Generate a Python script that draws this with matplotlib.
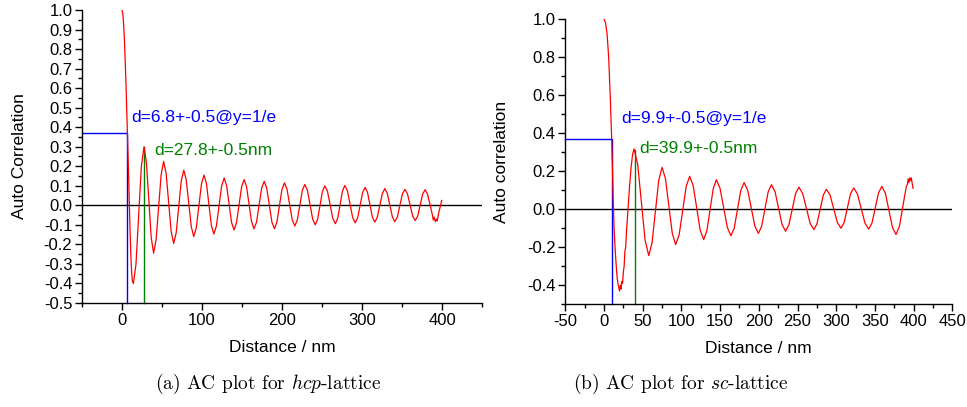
import numpy as np
import matplotlib
matplotlib.use('Agg')
import matplotlib.pyplot as plt
from matplotlib.ticker import MultipleLocator, FuncFormatter

# ---------------- data ----------------
x_hcp = [0, 1, 2, 3, 4, 5, 6, 6.8, 8, 9, 10, 11, 12, 13, 14.2,
         17.5, 20.85, 24.2, 27.5,
         30.5, 33.5, 36.5, 39.5,
         42.6, 45.75, 48.9, 52,
         55.15, 58.3, 61.45, 64.6,
         67.75, 70.9, 74.05, 77.2,
         80.3, 83.45, 86.6, 89.7,
         92.9, 96.1, 99.3, 102.5,
         105.6, 108.65, 111.7, 114.8,
         118.0, 121.25, 124.5, 127.7,
         130.8, 133.85, 136.9, 140,
         143.15, 146.3, 149.45, 152.6,
         155.7, 158.8, 161.9, 165,
         168.2, 171.35, 174.5, 177.7,
         180.9, 184.1, 187.3, 190.5,
         193.6, 196.75, 199.9, 203,
         206.2, 209.5, 212.75, 216,
         219.1, 222.25, 225.4, 228.5,
         231.75, 235, 238.25, 241.5,
         244.5, 247.5, 250.5, 253.5,
         256.8, 260.1, 263.4, 266.7,
         269.65, 272.6, 275.55, 278.5,
         281.75, 285, 288.25, 291.5,
         294.6, 297.65, 300.7, 303.8,
         306.85, 309.9, 312.95, 316,
         319.1, 322.25, 325.4, 328.5,
         331.6, 334.75, 337.9, 341,
         344.15, 347.3, 350.45, 353.6,
         356.8, 360.05, 363.3, 366.5,
         369.6, 372.65, 375.7, 378.8,
         382, 385.2, 388, 389, 390, 391.6, 393, 394, 395.5, 397.5, 399.6]
y_hcp = [1.0, 0.98, 0.93, 0.85, 0.74, 0.62, 0.48, 0.37, 0.19, 0.03, -0.12, -0.25, -0.34, -0.39, -0.40,
         -0.30, -0.05, 0.20, 0.30,
         0.22, 0.03, -0.165, -0.245,
         -0.176, -0.01, 0.156, 0.225,
         0.164, 0.015, -0.134, -0.195,
         -0.14, -0.008, 0.125, 0.18,
         0.13, 0.01, -0.11, -0.16,
         -0.114, -0.003, 0.11, 0.155,
         0.11, 0.004, -0.103, -0.147,
         -0.105, -0.003, 0.098, 0.14,
         0.10, 0.007, -0.087, -0.126,
         -0.088, 0.003, 0.094, 0.132,
         0.095, 0.006, -0.083, -0.12,
         -0.085, 0.0, 0.088, 0.123,
         0.088, 0.0, -0.085, -0.12,
         -0.086, -0.003, 0.081, 0.115,
         0.083, 0.005, -0.074, -0.106,
         -0.075, 0.0, 0.076, 0.107,
         0.077, 0.004, -0.07, -0.10,
         -0.071, 0.0, 0.071, 0.10,
         0.072, 0.003, -0.066, -0.094,
         -0.065, 0.004, 0.073, 0.102,
         0.074, 0.006, -0.062, -0.09,
         -0.063, 0.001, 0.065, 0.092,
         0.066, 0.003, -0.06, -0.086,
         -0.06, 0.0, 0.06, 0.086,
         0.061, 0.001, -0.059, -0.084,
         -0.06, -0.001, 0.058, 0.082,
         0.058, 0.002, -0.055, -0.078,
         -0.055, 0.001, 0.057, 0.08,
         0.056, 0.0, -0.05, -0.075, -0.06, -0.084, -0.07, -0.08, -0.045, -0.01, 0.025]

x_sc = [0, 2, 4, 6, 8, 9, 9.9, 11, 12, 13, 14, 15, 16, 17, 18, 19, 20, 21, 22, 23, 24, 25, 26, 27, 28,
        29, 30, 31, 33, 35, 37, 38.8,
        43.55, 48.3, 53.05, 57.8,
        62.1, 66.4, 70.7, 75,
        79.4, 83.8, 88.2, 92.6,
        97.1, 101.65, 106.2, 110.7,
        115.2, 119.75, 124.3, 128.8,
        132.9, 137, 141.1, 145.2,
        149.9, 154.6, 159.3, 164,
        168.25, 172.5, 176.75, 181,
        185.6, 190.25, 194.9, 199.5,
        203.7, 207.9, 212.1, 216.3,
        220.9, 225.45, 230, 234.6,
        238.9, 243.2, 247.5, 251.8,
        256.65, 261.5, 266.35, 271.2,
        275.2, 279.25, 283.3, 287.3,
        292, 296.75, 301.5, 306.2,
        310.3, 314.4, 318.5, 322.6,
        327.45, 332.3, 337.15, 342,
        346.25, 350.5, 354.75, 359,
        363.6, 368.15, 372.7, 377.3,
        381.7, 386.15, 390.6, 392, 393, 394, 395, 396, 397, 398, 399.3]
y_sc = [1.0, 0.98, 0.92, 0.8, 0.6, 0.48, 0.37, 0.2, 0.04, -0.10, -0.18, -0.25, -0.31, -0.36, -0.39,
        -0.41, -0.43, -0.40, -0.42, -0.38, -0.39, -0.33, -0.30, -0.22, -0.20, -0.12, -0.06, 0.0,
        0.12, 0.22, 0.29, 0.317,
        0.235, 0.037, -0.162, -0.244,
        -0.176, -0.012, 0.152, 0.22,
        0.161, 0.017, -0.127, -0.186,
        -0.134, -0.007, 0.12, 0.173,
        0.124, 0.007, -0.111, -0.16,
        -0.113, -0.003, 0.108, 0.155,
        0.11, 0.008, -0.095, -0.14,
        -0.099, 0.0, 0.099, 0.14,
        0.1, 0.007, -0.089, -0.127,
        -0.089, 0.001, 0.091, 0.129,
        0.093, 0.007, -0.08, -0.116,
        -0.082, 0.0, 0.082, 0.116,
        0.083, 0.005, -0.075, -0.107,
        -0.076, -0.001, 0.074, 0.105,
        0.075, 0.003, -0.07, -0.10,
        -0.069, 0.006, 0.081, 0.112,
        0.08, 0.004, -0.073, -0.105,
        -0.072, 0.008, 0.087, 0.12,
        0.083, -0.007, -0.096, -0.133,
        -0.09, 0.016, 0.12, 0.13, 0.16, 0.14, 0.165, 0.15, 0.165, 0.14, 0.11]

# marker values
d_hcp = 6.8          # width at y = 1/e
p_hcp = 27.8         # first-peak position
p_hcp_y = 0.30
d_sc = 9.9
p_sc = 39.9
p_sc_y = 0.31
y_e = 1 / np.e

label_hcp_d = "d=6.8+-0.5@y=1/e"
label_hcp_p = "d=27.8+-0.5nm"
label_sc_d = "d=9.9+-0.5@y=1/e"
label_sc_p = "d=39.9+-0.5nm"
ylabel_hcp = "Auto Correlation"
ylabel_sc = "Auto correlation"
xlabel = "Distance / nm"
caption_a = r"(a) AC plot for $hcp$-lattice"
caption_b = r"(b) AC plot for $sc$-lattice"

# ---------------- figure ----------------
plt.rcParams['font.family'] = ['Liberation Sans', 'DejaVu Sans']
plt.rcParams['mathtext.fontset'] = 'cm'

fig = plt.figure(figsize=(9.67, 4.07), dpi=100)
axL = fig.add_axes([0.0848, 0.2555, 0.4137, 0.72])
axR = fig.add_axes([0.5846, 0.2523, 0.4002, 0.701])

yfmt = FuncFormatter(lambda v, p: ("%.1f" % v).replace("-0.0", "0.0"))
xfmt = FuncFormatter(lambda v, p: "%d" % round(v))


def style(ax):
    for s in ('top', 'right'):
        ax.spines[s].set_visible(False)
    for s in ('left', 'bottom'):
        ax.spines[s].set_linewidth(1.0)
    ax.tick_params(which='major', direction='out', length=5, width=1, labelsize=12, pad=2)
    ax.tick_params(which='minor', direction='out', length=3, width=1)
    ax.set_xlim(-50, 450)
    ax.set_ylim(-0.5, 1.0)
    ax.yaxis.set_major_formatter(yfmt)
    ax.xaxis.set_major_formatter(xfmt)


# left: hcp
style(axL)
axL.xaxis.set_major_locator(MultipleLocator(100))
axL.xaxis.set_minor_locator(MultipleLocator(50))
axL.yaxis.set_major_locator(MultipleLocator(0.1))
axL.yaxis.set_minor_locator(MultipleLocator(0.05))
axL.axhline(0, color='black', lw=1.0, zorder=1)
axL.plot([-50, d_hcp, d_hcp], [y_e, y_e, -0.5], color='#0000ff', lw=1.0, zorder=2, clip_on=False)
axL.plot([p_hcp, p_hcp], [-0.5, p_hcp_y], color='#008000', lw=1.0, zorder=2, clip_on=False)
axL.plot(x_hcp, y_hcp, color='#ff0000', lw=0.9, zorder=3)
axL.text(11.3, 0.452, label_hcp_d, color='#0000ff', fontsize=12.5, va='center', ha='left')
axL.text(40.3, 0.283, label_hcp_p, color='#008000', fontsize=12.5, va='center', ha='left')
axL.set_ylabel(ylabel_hcp, fontsize=12.5)
axL.set_xlabel(xlabel, fontsize=12.5)
axL.yaxis.set_label_coords(-0.138, 0.5)
axL.xaxis.set_label_coords(0.5, -0.125)

# right: sc
style(axR)
axR.xaxis.set_major_locator(MultipleLocator(50))
axR.xaxis.set_minor_locator(MultipleLocator(25))
axR.yaxis.set_major_locator(MultipleLocator(0.2))
axR.yaxis.set_minor_locator(MultipleLocator(0.1))
axR.axhline(0, color='black', lw=1.0, zorder=1)
axR.plot([-50, d_sc, d_sc], [y_e, y_e, -0.5], color='#0000ff', lw=1.0, zorder=2, clip_on=False)
axR.plot([p_sc, p_sc], [-0.5, p_sc_y], color='#008000', lw=1.0, zorder=2, clip_on=False)
axR.plot(x_sc, y_sc, color='#ff0000', lw=0.9, zorder=3)
axR.text(22.5, 0.476, label_sc_d, color='#0000ff', fontsize=12.5, va='center', ha='left')
axR.text(44.9, 0.32, label_sc_p, color='#008000', fontsize=12.5, va='center', ha='left')
axR.set_ylabel(ylabel_sc, fontsize=12.5)
axR.set_xlabel(xlabel, fontsize=12.5)
axR.yaxis.set_label_coords(-0.145, 0.5)
axR.xaxis.set_label_coords(0.5, -0.13)

# captions
fig.text(268 / 967, 1 - 384 / 407, caption_a, family='cmr10', fontsize=14, ha='center', va='center')
fig.text(681 / 967, 1 - 384 / 407, caption_b, family='cmr10', fontsize=14, ha='center', va='center')

fig.savefig('out.png', dpi=100)
